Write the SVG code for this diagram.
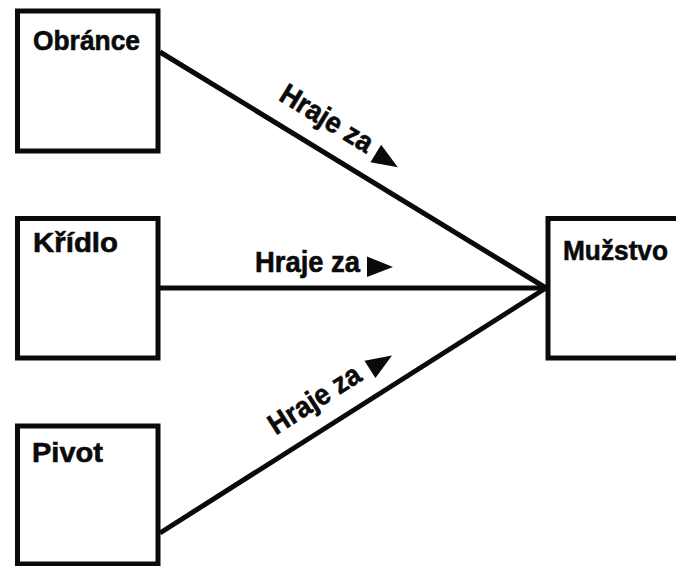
<svg xmlns="http://www.w3.org/2000/svg" width="676" height="566" viewBox="0 0 676 566">
<style>
.box{fill:#fff;stroke:#0a0a0a;stroke-width:5}
.edge{fill:none;stroke:#0a0a0a;stroke-width:5;stroke-linecap:butt}
.nl{font-family:"Liberation Sans",Arial,sans-serif;font-weight:bold;font-size:28.5px;fill:#0a0a0a;stroke:#0a0a0a;stroke-width:0.6}
.el{font-family:"Liberation Sans",Arial,sans-serif;font-weight:bold;font-size:29px;fill:#0a0a0a;stroke:#0a0a0a;stroke-width:0.6}
.tri{fill:#0a0a0a}
</style>
<defs>
<polygon id="tri" class="tri" points="0,-15.5 0,5 26,-5"/>
</defs>
<rect width="676" height="566" fill="#fff"/>
<g id="connectors">
<line class="edge" x1="160" y1="52" x2="546" y2="288"/>
<line class="edge" x1="160" y1="288" x2="546" y2="288"/>
<line class="edge" x1="160" y1="533" x2="546" y2="288"/>
<g transform="translate(160,52) rotate(31.5)">
<text class="el" x="125" y="-21" textLength="104" lengthAdjust="spacingAndGlyphs">Hraje za</text>
<use href="#tri" x="237" y="-21"/>
</g>
<g>
<text class="el" x="255" y="272" textLength="105" lengthAdjust="spacingAndGlyphs">Hraje za</text>
<use href="#tri" x="367" y="272"/>
</g>
<g transform="translate(160,533) rotate(-32.5)">
<text class="el" x="150" y="-20" textLength="104" lengthAdjust="spacingAndGlyphs">Hraje za</text>
<use href="#tri" x="265" y="-20"/>
</g>
</g>
<g id="obrance">
<rect class="box" x="17.5" y="11" width="140.5" height="140"/>
<text class="nl" x="33" y="50" textLength="107" lengthAdjust="spacingAndGlyphs">Obránce</text>
</g>
<g id="kridlo">
<rect class="box" x="17.5" y="218.5" width="140.5" height="139.5"/>
<text class="nl" x="33" y="252" textLength="85" lengthAdjust="spacingAndGlyphs">Křídlo</text>
</g>
<g id="pivot">
<rect class="box" x="17.5" y="426" width="140.5" height="138"/>
<text class="nl" x="32" y="462" textLength="71" lengthAdjust="spacingAndGlyphs">Pivot</text>
</g>
<g id="muzstvo">
<rect class="box" x="548" y="218.5" width="145" height="139.5"/>
<text class="nl" x="563" y="260" textLength="105" lengthAdjust="spacingAndGlyphs">Mužstvo</text>
</g>
</svg>
